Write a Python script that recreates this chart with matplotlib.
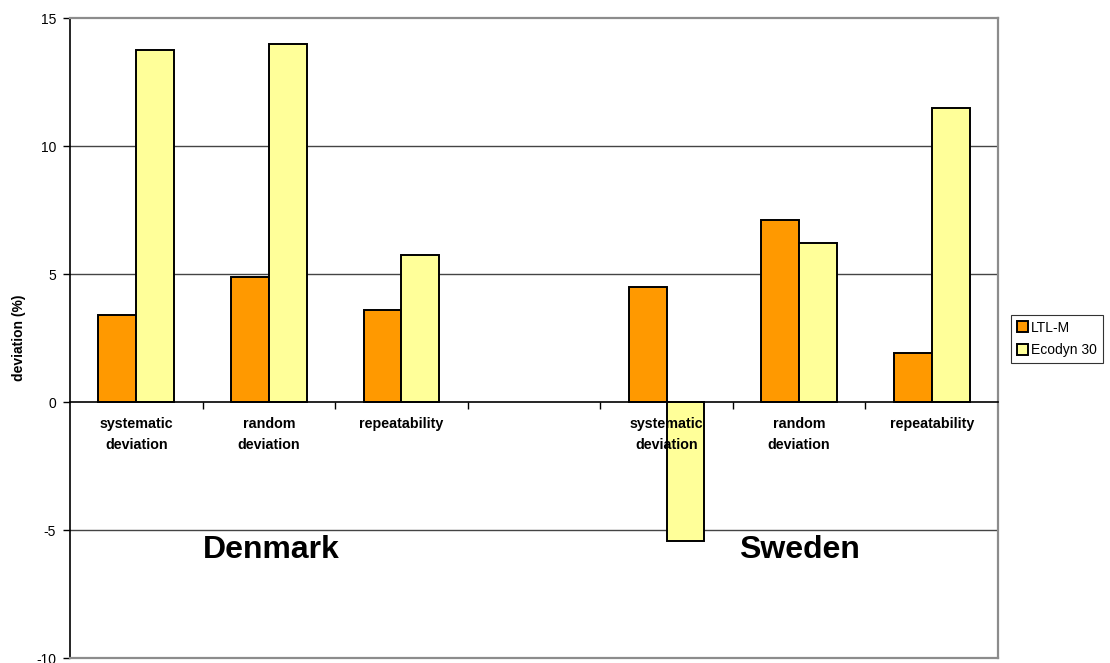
import numpy as np
import matplotlib
matplotlib.use("Agg")
import matplotlib.pyplot as plt

categories = ["systematic\ndeviation", "random\ndeviation", "repeatability", "",
              "systematic\ndeviation", "random\ndeviation", "repeatability"]
ltl_m = [3.41, 4.87, 3.61, np.nan, 4.50, 7.11, 1.92]
ecodyn_30 = [13.75, 13.97, 5.76, np.nan, -5.42, 6.22, 11.47]
series_names = ["LTL-M", "Ecodyn 30"]
group_labels = ["Denmark", "Sweden"]
group_centers = [1.02, 5]
yticks = [-10, -5, 0, 5, 10, 15]

plt.rcParams['font.family'] = ['Liberation Sans', 'DejaVu Sans']

W, H = 1110, 663
fig = plt.figure(figsize=(W / 100, H / 100), dpi=100)
ax = fig.add_axes([70 / W, (H - 658) / H, 928 / W, 640 / H])

x = np.arange(len(categories))
bw = 1 / 3.5
ax.bar(x - bw / 2, ltl_m, bw, color="#FF9900", edgecolor="black", linewidth=1.4,
       label=series_names[0], zorder=2)
ax.bar(x + bw / 2, ecodyn_30, bw, color="#FFFF99", edgecolor="black", linewidth=1.4,
       label=series_names[1], zorder=2)

ax.set_xlim(-0.5, len(categories) - 0.5)
ax.set_ylim(-10, 15)
ax.set_yticks(yticks)
ax.set_yticklabels([str(v) for v in yticks], fontsize=10)
ax.tick_params(axis='y', direction='out', length=5, width=1, pad=5, color='black')

# gridlines
for v in yticks:
    if v not in (0, 15, -10):
        ax.axhline(v, color="#444444", linewidth=1.0, zorder=0.5)

# spines
ax.spines['bottom'].set_position(('data', 0))
ax.spines['bottom'].set_color('black')
ax.spines['bottom'].set_linewidth(1.2)
ax.spines['bottom'].set_zorder(3)
ax.spines['left'].set_color('black')
ax.spines['left'].set_linewidth(1.2)
for s in ('top', 'right'):
    ax.spines[s].set_color('#8c8c8c')
    ax.spines[s].set_linewidth(1.6)
ax.axhline(-10, color='#8c8c8c', linewidth=1.6, clip_on=False, zorder=3)

ax.set_xticks(np.arange(0.5, len(categories) - 0.5, 1.0))
ax.set_xticklabels([])
ax.tick_params(axis='x', direction='out', length=5, width=1, color='black')

for i, lab in enumerate(categories):
    if lab:
        ax.annotate(lab, xy=(i, 0), xytext=(0, -15), textcoords='offset pixels',
                    ha='center', va='top', fontsize=10.3, fontweight='bold',
                    linespacing=1.62, zorder=5, annotation_clip=False)

for c, g in zip(group_centers, group_labels):
    ax.text(c, -5.8, g, ha='center', va='center', fontsize=23, fontweight='bold', zorder=5)

ax.set_ylabel("deviation (%)", fontsize=10, fontweight='bold', va='center')
ax.yaxis.set_label_coords(-51 / 928, 0.5)

leg = fig.legend(loc='upper left', bbox_to_anchor=(1011 / W, 1 - 315 / H),
                 fontsize=10, frameon=True, fancybox=False, edgecolor='black',
                 handlelength=0.85, handleheight=0.85, handletextpad=0.2,
                 borderpad=0.4, labelspacing=0.62, borderaxespad=0)
leg.get_frame().set_linewidth(0.8)

fig.savefig("out.png", dpi=100)
